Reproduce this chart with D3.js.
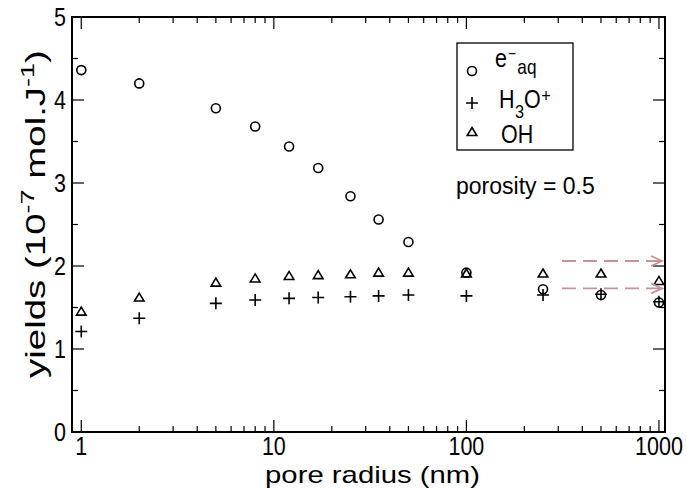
<!DOCTYPE html>
<html>
<head>
<meta charset="utf-8">
<script src="https://cdn.jsdelivr.net/npm/d3@7"></script>
<style>
  body { margin: 0; background: #fff; }
  text { font-family: "Liberation Sans", Arial, Helvetica, sans-serif; fill: #000; }
</style>
</head>
<body>
<div id="chart"></div>
<script>
// pore radius (nm)
var radius = [1, 2, 5, 8, 12, 17, 25, 35, 50, 100, 250, 500, 1000];
// yields (10^-7 mol/J)
var eaq = [4.36, 4.20, 3.90, 3.68, 3.44, 3.18, 2.84, 2.56, 2.29, 1.92, 1.72, 1.65, 1.56];
var h3o = [1.21, 1.37, 1.55, 1.59, 1.61, 1.62, 1.63, 1.64, 1.65, 1.64, 1.65, 1.66, 1.57];
var oh = [1.45, 1.62, 1.80, 1.85, 1.88, 1.89, 1.90, 1.92, 1.92, 1.91, 1.91, 1.91, 1.82];
// bulk water values shown by arrows
var bulk = [2.06, 1.73];
var xTicks = [1, 10, 100, 1000];
var yTicks = [0, 1, 2, 3, 4, 5];

var width = 687, height = 489;
var margin = {top: 17, right: 22, bottom: 57, left: 72};

var svg = d3.select("#chart").append("svg")
  .attr("width", width)
  .attr("height", height);

var x = d3.scaleLog().domain([0.895, 1075]).range([margin.left, width - margin.right]);
var y = d3.scaleLinear().domain([0, 5]).range([height - margin.bottom, margin.top]);

var x0 = margin.left, x1 = width - margin.right, y0 = height - margin.bottom, y1 = margin.top;

// the text in the picture is a bit narrow, squeeze it sideways
var squeeze = 0.86;

// minor ticks
var xMinor = [];
[1, 10, 100].forEach(function(d) {
  for (var k = 2; k <= 9; k++) xMinor.push(d * k);
});
var yMinor = d3.range(0.5, 5, 1);

var ticks = svg.append("g").attr("stroke", "#000").attr("stroke-width", 1.2);
xTicks.forEach(function(d) {
  ticks.append("line").attr("x1", x(d)).attr("x2", x(d)).attr("y1", y0).attr("y2", y0 - 12);
  ticks.append("line").attr("x1", x(d)).attr("x2", x(d)).attr("y1", y1).attr("y2", y1 + 12);
});
xMinor.forEach(function(d) {
  ticks.append("line").attr("x1", x(d)).attr("x2", x(d)).attr("y1", y0).attr("y2", y0 - 6);
  ticks.append("line").attr("x1", x(d)).attr("x2", x(d)).attr("y1", y1).attr("y2", y1 + 6);
});
yTicks.forEach(function(d) {
  ticks.append("line").attr("x1", x0).attr("x2", x0 + 12).attr("y1", y(d)).attr("y2", y(d));
  ticks.append("line").attr("x1", x1).attr("x2", x1 - 12).attr("y1", y(d)).attr("y2", y(d));
});
yMinor.forEach(function(d) {
  ticks.append("line").attr("x1", x0).attr("x2", x0 + 6).attr("y1", y(d)).attr("y2", y(d));
  ticks.append("line").attr("x1", x1).attr("x2", x1 - 6).attr("y1", y(d)).attr("y2", y(d));
});

// frame
svg.append("rect")
  .attr("x", x0).attr("y", y1)
  .attr("width", x1 - x0).attr("height", y0 - y1)
  .attr("fill", "none").attr("stroke", "#000").attr("stroke-width", 2);

// tick labels
svg.selectAll(".xl").data(xTicks).enter().append("text")
  .attr("transform", function(d) { return "translate(" + x(d) + "," + (y0 + 23) + ") scale(" + squeeze + ",1)"; })
  .attr("text-anchor", "middle")
  .style("font-size", "25px")
  .text(function(d) { return d; });

svg.selectAll(".yl").data(yTicks).enter().append("text")
  .attr("transform", function(d) { return "translate(" + (x0 - 6) + "," + (y(d) + 9) + ") scale(" + squeeze + ",1)"; })
  .attr("text-anchor", "end")
  .style("font-size", "25px")
  .text(function(d) { return d; });

// stretch a text along its baseline so it spans a given length
function fit(sel, len) {
  var w = sel.node().getBBox().width;
  var t = sel.attr("transform");
  sel.attr("transform", t + " scale(" + (len / w) + ",1)");
}

// axis titles
var xt = svg.append("text")
  .attr("transform", "translate(372.5,483)")
  .attr("text-anchor", "middle")
  .style("font-size", "24px")
  .text("pore radius (nm)");
fit(xt, 215);

var yt = svg.append("text")
  .attr("transform", "translate(45,214) rotate(-90)")
  .attr("text-anchor", "middle")
  .style("font-size", "27px");
yt.append("tspan").text("yields (10");
yt.append("tspan").attr("dy", -11).style("font-size", "19px").text("-7");
yt.append("tspan").attr("dy", 11).text(" mol.J");
yt.append("tspan").attr("dy", -11).style("font-size", "19px").text("-1");
yt.append("tspan").attr("dy", 11).text(")");
fit(yt, 328);

// markers
var sym = {
  circle: function(g, cx, cy) {
    g.append("circle").attr("cx", cx).attr("cy", cy).attr("r", 4.5);
  },
  plus: function(g, cx, cy) {
    g.append("path").attr("d", "M" + (cx - 6) + "," + cy + "H" + (cx + 6) + "M" + cx + "," + (cy - 6) + "V" + (cy + 6));
  },
  tri: function(g, cx, cy) {
    g.append("path").attr("d", "M" + cx + "," + (cy - 4.5) + "L" + (cx + 4.8) + "," + (cy + 3.5) + "L" + (cx - 4.8) + "," + (cy + 3.5) + "Z");
  }
};

var marks = svg.append("g").attr("fill", "none").attr("stroke", "#000").attr("stroke-width", 1.6);
radius.forEach(function(r, i) {
  sym.tri(marks, x(r), y(oh[i]));
  sym.plus(marks, x(r), y(h3o[i]));
  sym.circle(marks, x(r), y(eaq[i]));
});

// bulk arrows
var arr = svg.append("g").attr("stroke", "#c49494").attr("stroke-width", 1.8).attr("fill", "none");
bulk.forEach(function(v) {
  arr.append("line")
    .attr("x1", 562).attr("x2", x1 - 3)
    .attr("y1", y(v)).attr("y2", y(v))
    .attr("stroke-dasharray", "14,7");
  arr.append("path")
    .attr("d", "M" + (x1 - 14) + "," + (y(v) - 5) + "L" + (x1 - 3) + "," + y(v) + "L" + (x1 - 14) + "," + (y(v) + 5));
});

// annotation
svg.append("text")
  .attr("x", 456).attr("y", 194)
  .style("font-size", "23px")
  .text("porosity = 0.5");

// legend
var lg = svg.append("g");
lg.append("rect")
  .attr("x", 457).attr("y", 43).attr("width", 116).attr("height", 107)
  .attr("fill", "#fff").attr("stroke", "#000").attr("stroke-width", 1.3);
var lm = lg.append("g").attr("fill", "none").attr("stroke", "#000").attr("stroke-width", 1.6);
sym.circle(lm, 472, 71);
sym.plus(lm, 472, 103);
sym.tri(lm, 472, 132);

var t1 = lg.append("text")
  .attr("transform", "translate(495,67) scale(" + squeeze + ",1)")
  .style("font-size", "25px");
t1.append("tspan").attr("x", 0).attr("y", 0).text("e");
t1.append("tspan").attr("x", 15).attr("y", -8).style("font-size", "16px").text("\u2212");
t1.append("tspan").attr("x", 26).attr("y", 7).style("font-size", "20px").text("aq");

var t2 = lg.append("text")
  .attr("transform", "translate(499,108) scale(" + squeeze + ",1)")
  .style("font-size", "25px");
t2.append("tspan").attr("x", 0).attr("y", 0).text("H");
t2.append("tspan").attr("x", 18.5).attr("y", 10).style("font-size", "19px").text("3");
t2.append("tspan").attr("x", 29).attr("y", 0).text("O");
t2.append("tspan").attr("x", 49).attr("y", -6).style("font-size", "19px").text("+");

lg.append("text")
  .attr("transform", "translate(501,143) scale(" + squeeze + ",1)")
  .style("font-size", "25px")
  .text("OH");
</script>
</body>
</html>
